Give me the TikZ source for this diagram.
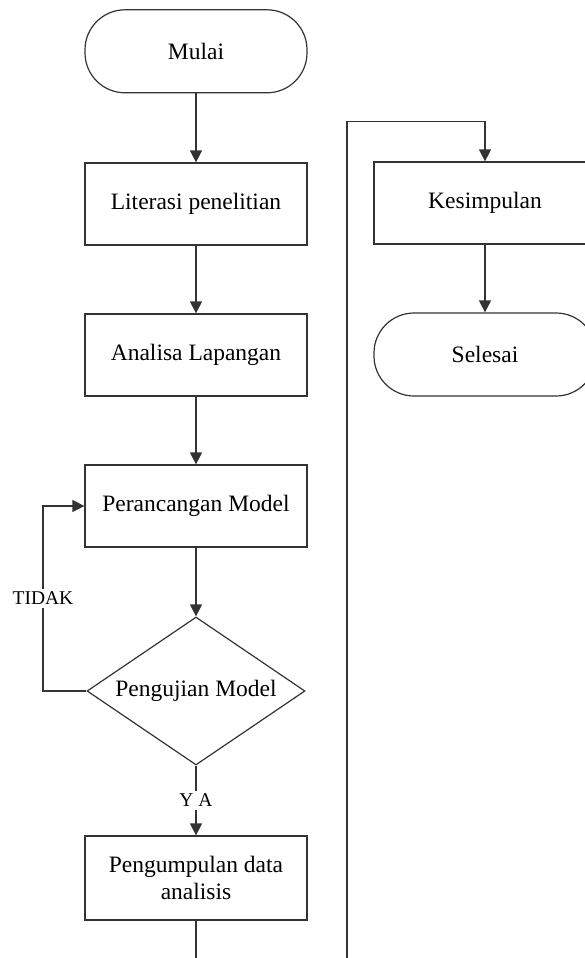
\documentclass[tikz,border=0pt]{standalone}
\usepackage{fontspec}
\setmainfont{Liberation Serif}
\usetikzlibrary{arrows.meta,shapes.geometric}

\tikzset{
  flowline/.style={draw=black!80, line width=1.2pt},
  flowarrow/.style={flowline, -{Triangle[length=12pt,width=12pt]}},
  procbox/.style={draw=black!80, line width=1.2pt, rectangle, minimum width=222pt,
    minimum height=82pt, inner sep=0pt, align=center,
    font=\fontsize{23.5}{27}\selectfont},
  termbox/.style={procbox, rounded corners=40pt, minimum height=83pt},
  decbox/.style={draw=black!80, line width=1.2pt, diamond, aspect=1.47,
    minimum width=218pt, minimum height=148pt, inner sep=0pt,
    font=\fontsize{23.5}{27}\selectfont},
  edgelabel/.style={fill=white, inner sep=3pt, font=\fontsize{19.5}{22}\selectfont}
}

\begin{document}
\begin{tikzpicture}[x=1pt, y=-1pt]
  \useasboundingbox (0,0) rectangle (585,958);
  \clip (0,0) rectangle (585,958);

  % left column
  \node[termbox] (mulai) at (196,51.3) {Mulai};
  \node[procbox] (lit) at (196,204) {Literasi penelitian};
  \node[procbox] (ana) at (196,355) {Analisa Lapangan};
  \node[procbox] (per) at (196,506) {Perancangan Model};
  \node[decbox] (uji) at (196,691) {Pengujian Model};
  \node[procbox, minimum height=84pt] (kumpul) at (196,878)
    {Pengumpulan data\\analisis};

  % right column
  \node[procbox] (kes) at (485,203) {Kesimpulan};
  \node[termbox] (selesai) at (485,354.5) {Selesai};

  % bends of the long connector
  \coordinate (b1) at (196,990);
  \coordinate (b2) at (347,990);
  \coordinate (b3) at (347,121.7);
  \coordinate (b4) at (485,121.7);
  \coordinate (t1) at (43,691);
  \coordinate (t2) at (43,506);

  \draw[flowarrow] (mulai) -- (lit);
  \draw[flowarrow] (lit) -- (ana);
  \draw[flowarrow] (ana) -- (per);
  \draw[flowarrow] (per) -- (uji);
  \draw[flowarrow] (uji.west) -- (t1) -- node[edgelabel, pos=0.5] {TIDAK} (t2) -- (per.west);
  \draw[flowarrow] (uji.south) -- node[edgelabel, pos=0.5] {Y A} (kumpul.north);
  \draw[flowarrow] (kumpul.south) -- (b1) -- (b2) -- (b3) -- (b4) -- (kes.north);
  \draw[flowarrow] (kes) -- (selesai);
\end{tikzpicture}
\end{document}
